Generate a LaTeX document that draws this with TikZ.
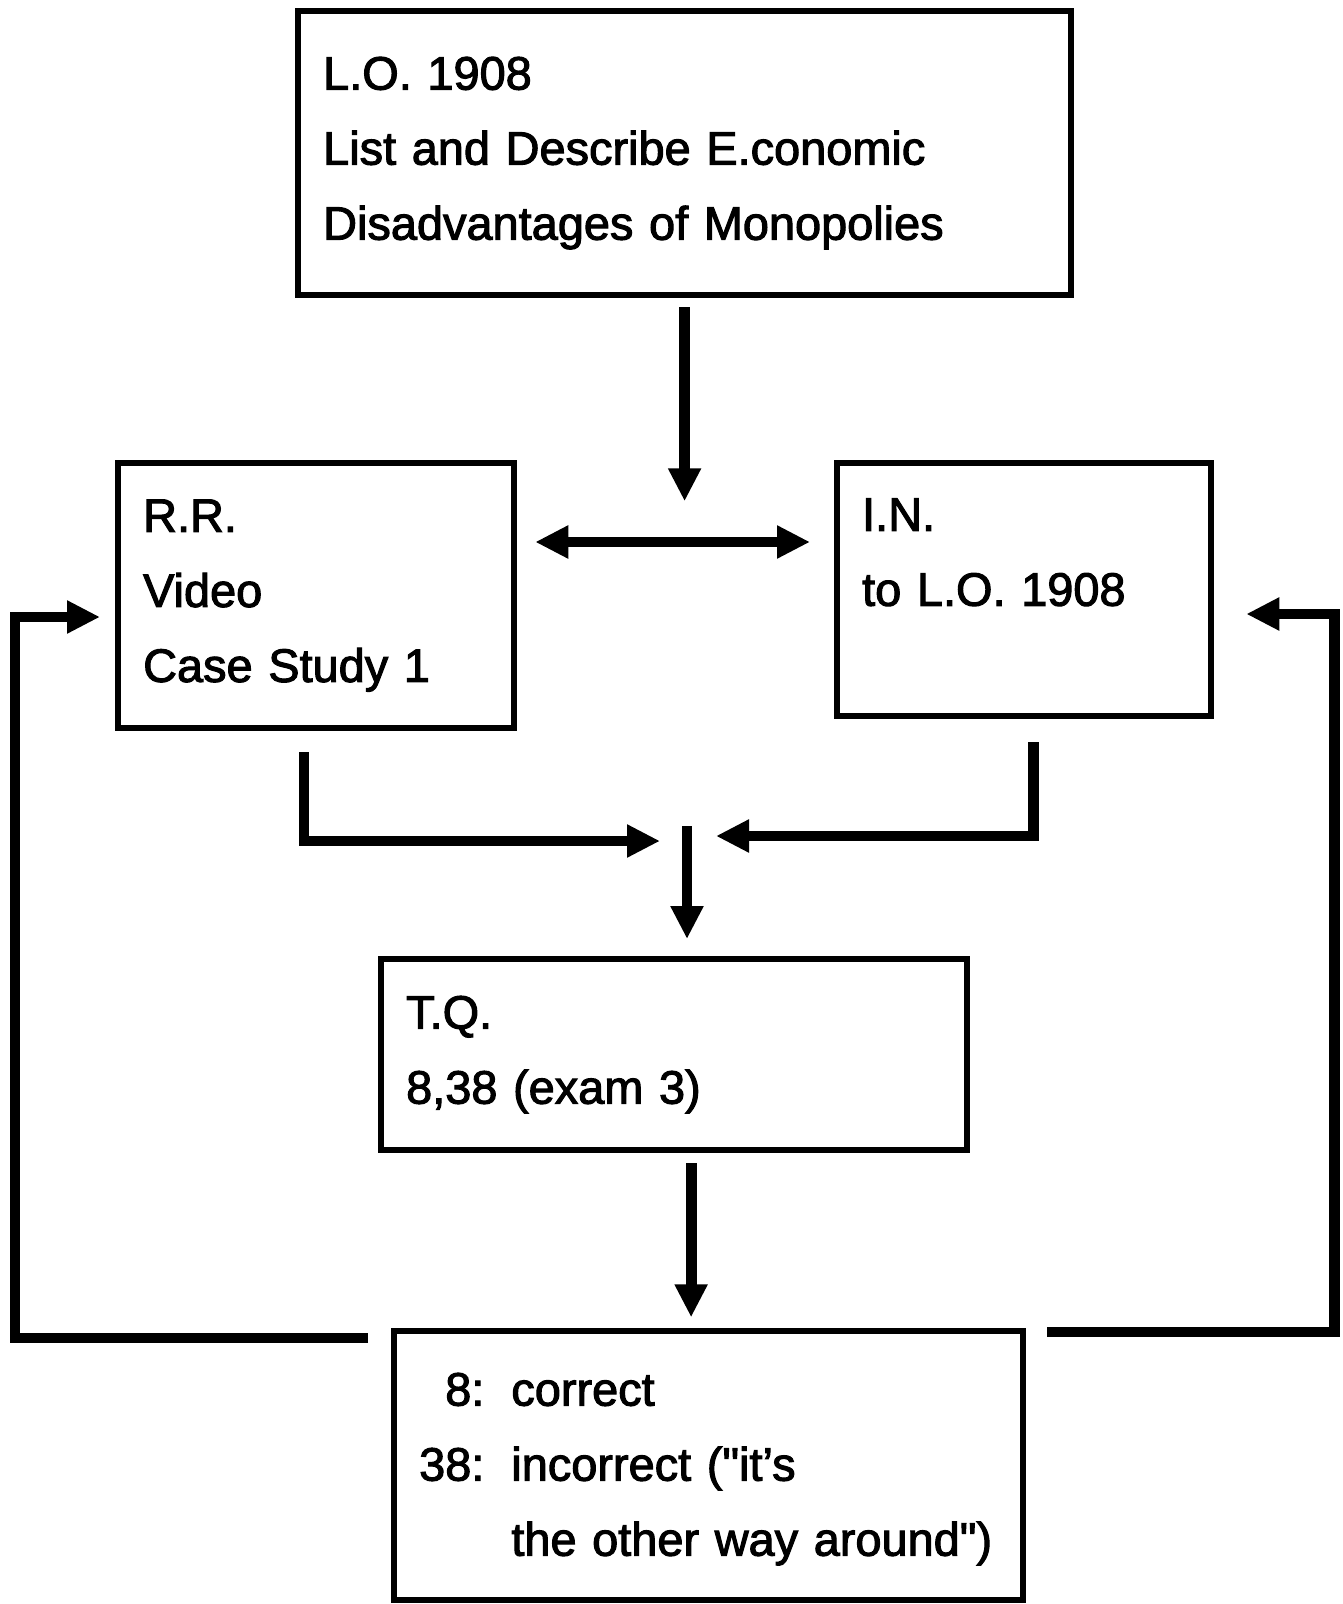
\documentclass[tikz,border=0pt]{standalone}
\usepackage{fontspec}
\newfontfamily\chartfont{Liberation Sans}[FakeBold=2.2]
\usetikzlibrary{arrows.meta,calc}

\begin{document}
\begin{tikzpicture}[x=0.02cm, y=-0.02cm,
  every node/.style={font=\chartfont\fontsize{26.7}{42.7}\selectfont},
  box/.style={draw, line width=3.6pt, anchor=north west, align=left, inner xsep=0.5cm, inner ysep=0pt},
  arr/.style={line width=6.2pt, >={Triangle[length=0.66cm,width=0.62cm]}}]
        \useasboundingbox (0,0) rectangle (1342,1604);

        % Boxes placed at absolute positions
        \node[box, minimum width=15.46cm, minimum height=5.68cm, text width=14.46cm] (lo) at (295,8) {L.O. 1908\\ List and Describe E.conomic\\ Disadvantages of Monopolies};
        \node[box, minimum width=7.92cm, minimum height=5.3cm, text width=6.92cm] (rr) at (115,460) {R.R.\\ Video\\ Case Study 1};
        \node[box, minimum width=7.48cm, minimum height=5.06cm, text width=6.48cm] (in) at (834,460) {I.N.\\ to L.O. 1908\\ \mbox{}};
        \node[box, minimum width=11.72cm, minimum height=3.82cm, text width=10.72cm] (tq) at (378,956) {T.Q.\\ 8,38 (exam 3)};
        \node[box, minimum width=12.58cm, minimum height=5.38cm, text width=11.58cm] (res) at (391,1328) {\begin{tabular}{@{}r@{\hspace{0.54cm}}l@{}}8: & correct\\ 38: & incorrect ("it’s\\ & the other way around")\end{tabular}};

        \coordinate (merge) at (687,838);

        % Arrows
        \draw[arr, ->] ($(lo.south)+(0,9)$) -- ($(lo.south)+(0,203)$);
        \draw[arr, <->] ($(rr.north east)+(18,82)$) -- ($(in.north west)+(-24,82)$);
        \draw[arr, ->] ($(rr.south west)+(189,21)$) |- ($(merge)+(-27,3)$);
        \draw[arr, ->] ($(in.south east)+(-181,23)$) |- ($(merge)+(29,-2)$);
        \draw[arr, ->] ($(merge)+(0,-12)$) -- ($(merge |- tq.north)+(0,-17)$);
        \draw[arr, ->] ($(tq.south)+(17,10)$) -- ($(tq.south)+(17,164)$);

        % Feedback loops
        \draw[arr, ->] ($(res.north west)+(-23,10)$) -- ++(-353,0) |- ($(rr.north west)+(-15,157)$);
        \draw[arr, ->] ($(res.north east)+(21,4)$) -- ++(287,0) |- ($(in.north east)+(32,154)$);
      \end{tikzpicture}
\end{document}
